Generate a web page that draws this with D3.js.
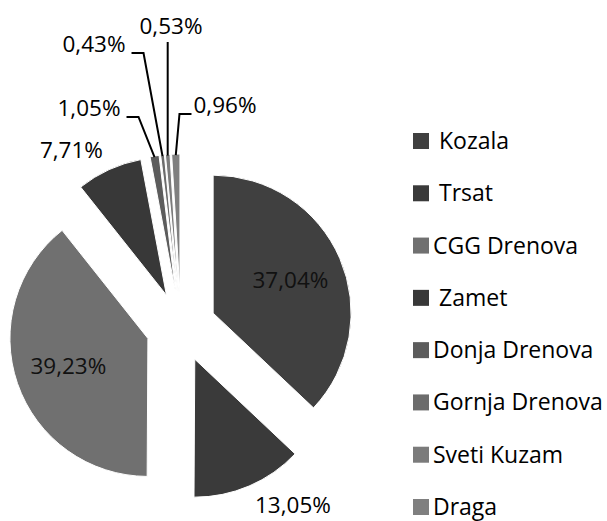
<!DOCTYPE html>
<html>
<head>
<meta charset="utf-8">
<script src="https://cdn.jsdelivr.net/npm/d3@7"></script>
<style>
  html, body { margin: 0; padding: 0; background: #fff; }
  svg { display: block; font-family: "Open Sans", "Noto Sans", sans-serif; }
  .legend text { white-space: pre; }
</style>
</head>
<body>
<svg id="chart" width="607" height="521"></svg>
<script>
// Share of each neighbourhood (percent)
const categories = [" Kozala", " Trsat", "CGG Drenova", " Zamet", "Donja Drenova", "Gornja Drenova", "Sveti Kuzam", "Draga"];
const values = [37.04, 13.05, 39.23, 7.71, 1.05, 0.43, 0.53, 0.96];
const labels = ["37,04%", "13,05%", "39,23%", "7,71%", "1,05%", "0,43%", "0,53%", "0,96%"];
const colors = ["#404040", "#3a3a3a", "#707070", "#383838", "#5c5c5c", "#6c6c6c", "#7b7b7b", "#7f7f7f"];

// How each value label is placed
const labelMode = ["inside", "outside", "inside", "outside", "leader", "leader", "leader", "leader"];
// Text centres of the small-slice labels, which are pulled out with leader lines
const leaderLabels = {
  "Donja Drenova": { x: 89, y: 108, side: "left" },
  "Gornja Drenova": { x: 94, y: 44, side: "left" },
  "Sveti Kuzam": { x: 171, y: 26, side: "top" },
  "Draga": { x: 225, y: 105, side: "right" }
};

const svg = d3.select("#chart");
const cx = 181, cy = 327, radius = 138, explode = 35;

const pie = d3.pie().sort(null).value(d => d.value);
const rows = categories.map((c, i) => ({ name: c.trim(), legendName: c, value: values[i], label: labels[i], color: colors[i], mode: labelMode[i] }));
const arcs = pie(rows);

const arc = d3.arc().innerRadius(0).outerRadius(radius);
const labelArc = d3.arc().innerRadius(radius * 0.61).outerRadius(radius * 0.61);

const mid = d => (d.startAngle + d.endAngle) / 2;
const offset = d => [Math.sin(mid(d)) * explode, -Math.cos(mid(d)) * explode];
const polar = (d, r) => [Math.sin(mid(d)) * r, -Math.cos(mid(d)) * r];

const slices = svg.append("g").attr("transform", `translate(${cx},${cy})`);

const sliceG = slices.selectAll("g.slice")
  .data(arcs)
  .join("g")
  .attr("class", "slice")
  .attr("transform", d => `translate(${offset(d)[0]},${offset(d)[1]})`);

sliceG.append("path")
  .attr("d", arc)
  .attr("fill", d => d.data.color)
  .attr("stroke", "#fff")
  .attr("stroke-width", 1);

const fontSize = 22.5;
const half = Math.round(fontSize * 0.36);

// Labels inside the large slices
sliceG.filter(d => d.data.mode === "inside")
  .append("text")
  .attr("transform", d => `translate(${labelArc.centroid(d)})`)
  .attr("text-anchor", "middle")
  .attr("dy", "0.36em")
  .attr("font-size", fontSize)
  .attr("fill", "#111")
  .text(d => d.data.label);

// Labels just outside the arc
sliceG.filter(d => d.data.mode === "outside")
  .append("text")
  .each(function (d) {
    const [px, py] = polar(d, radius + 10);
    const s = Math.sin(mid(d)), c = Math.cos(mid(d));
    d3.select(this)
      .attr("x", s > 0 ? px + 2 : px - 2)
      .attr("text-anchor", s > 0 ? "start" : "end")
      .attr("y", c > 0 ? py - 3 : py + 18);
  })
  .attr("font-size", fontSize)
  .attr("fill", "#000")
  .text(d => d.data.label);

// Small slices: labels with leader lines
const leaderG = svg.append("g");
arcs.filter(d => d.data.mode === "leader").forEach(d => {
  const pos = leaderLabels[d.data.name];
  const off = offset(d);
  const tip = polar(d, radius);
  const end = [cx + off[0] + tip[0], cy + off[1] + tip[1] + 1];
  const baseline = pos.y + half;
  const text = leaderG.append("text")
    .attr("x", pos.x)
    .attr("y", baseline)
    .attr("text-anchor", "middle")
    .attr("font-size", fontSize)
    .attr("fill", "#000")
    .text(d.data.label);
  const bb = text.node().getBBox();
  let pts;
  if (pos.side === "left") {
    const sx = bb.x + bb.width + 6;
    pts = [[sx, baseline + 1], [sx + 12, baseline + 1], end];
  } else if (pos.side === "right") {
    const sx = bb.x - 2;
    pts = [[sx, baseline + 1], [sx - 12, baseline + 1], end];
  } else {
    pts = [[end[0], baseline + 8], end];
  }
  leaderG.append("path")
    .attr("d", d3.line()(pts))
    .attr("fill", "none")
    .attr("stroke", "#000")
    .attr("stroke-width", 2);
});

// Legend
const legendY = d3.scalePoint().domain(d3.range(categories.length)).range([141, 507]);
const legend = svg.append("g").attr("class", "legend");
const item = legend.selectAll("g")
  .data(rows)
  .join("g")
  .attr("transform", (d, i) => `translate(413,${legendY(i)})`);
item.append("rect")
  .attr("x", 0).attr("y", -8)
  .attr("width", 16).attr("height", 16)
  .attr("fill", d => d.color);
item.append("text")
  .attr("x", 20)
  .attr("y", 8)
  .attr("font-size", 23)
  .attr("fill", "#000")
  .text(d => d.legendName);
</script>
</body>
</html>
